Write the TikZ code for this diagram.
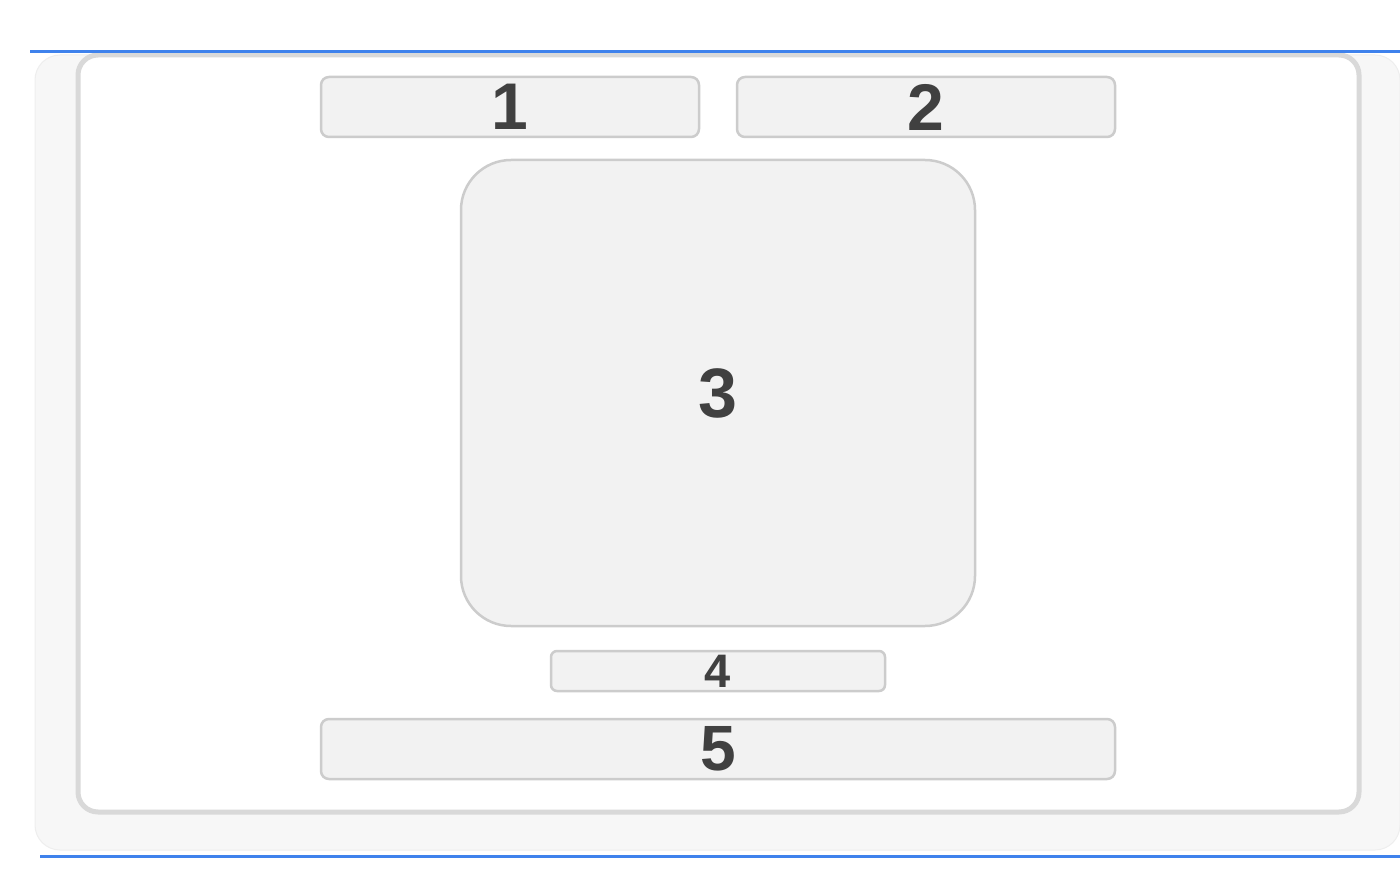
\documentclass[tikz,border=0pt]{standalone}
\usepackage{fontspec}
\setmainfont{Liberation Sans}
\definecolor{bluel}{HTML}{3F82EC}
\definecolor{panelfill}{HTML}{F7F7F7}
\definecolor{panelline}{HTML}{EEEEEE}
\definecolor{framel}{HTML}{D9D9D9}
\definecolor{boxfill}{HTML}{F2F2F2}
\definecolor{boxline}{HTML}{CCCCCC}
\definecolor{txt}{HTML}{404040}
\tikzset{
  box/.style={draw=boxline, fill=boxfill, line width=2.5pt, rounded corners=8pt,
    inner sep=0pt, text=txt, font=\bfseries\fontsize{66}{66}\selectfont},
  blueline/.style={draw=bluel, line width=3pt},
}
\begin{document}
\begin{tikzpicture}[x=1pt,y=-1pt]
\useasboundingbox (0,0) rectangle (1400,890);
\fill[white] (0,0) rectangle (1400,890);
% outer panel
\draw[panelline, fill=panelfill, line width=1pt, rounded corners=25pt] (35,55) rectangle (1400,850);
% inner frame
\draw[framel, fill=white, line width=5pt, rounded corners=20pt] (78,55) rectangle (1359,812);
% blue rules
\coordinate (tl) at (30,52);
\coordinate (tr) at (1400,52);
\coordinate (bl) at (40,856);
\coordinate (br) at (1400,856);
\draw[blueline] (tl) -- (tr);
\draw[blueline] (bl) -- (br);
% boxes
\node[box, minimum width=378pt, minimum height=60pt] (b1) at (510,107) {1};
\node[box, minimum width=378pt, minimum height=60pt] (b2) at (926,107) {2};
\node[box, rounded corners=50pt, minimum width=514pt, minimum height=466pt,
  font=\bfseries\fontsize{70}{70}\selectfont] (b3) at (718,393) {3};
\node[box, rounded corners=6pt, minimum width=334pt, minimum height=40pt,
  font=\bfseries\fontsize{47}{47}\selectfont] (b4) at (718,671) {4};
\node[box, minimum width=794pt, minimum height=60pt,
  font=\bfseries\fontsize{64}{64}\selectfont] (b5) at (718,749) {5};
\end{tikzpicture}
\end{document}
